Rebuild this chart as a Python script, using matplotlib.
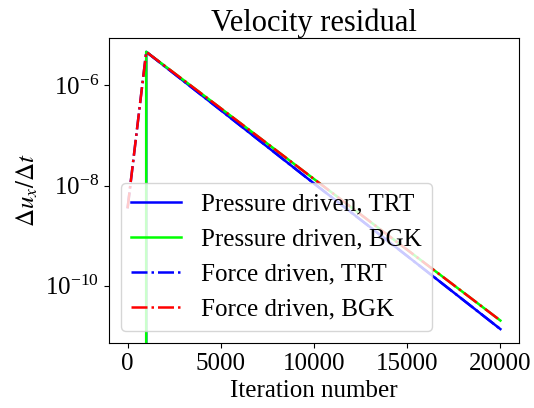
import matplotlib
matplotlib.use("Agg")
import matplotlib.pyplot as plt

plt.rcParams['font.family'] = ['Liberation Serif', 'DejaVu Serif']
plt.rcParams['mathtext.fontset'] = 'stix'
plt.rcParams['font.size'] = 18

# ---------------------------
# Data
# ---------------------------
# pressure driven runs start at iteration 1000 (zero residual before)
it_pressure = [0, 999, 1000, 5000, 10000, 15000, 20000]
pressure_trt = [0, 0, 4.7e-6, 3.2e-7, 1.1e-8, 3.9e-10, 1.35e-11]
pressure_bgk = [0, 0, 4.7e-6, 3.5e-7, 1.35e-8, 5.2e-10, 2.0e-11]

# force driven runs start from iteration 0
it_force = [0, 1000, 5000, 10000, 15000, 20000]
force_trt = [3.5e-9, 4.7e-6, 3.2e-7, 1.1e-8, 3.9e-10, 1.35e-11]
force_bgk = [3.5e-9, 4.7e-6, 3.5e-7, 1.35e-8, 5.2e-10, 2.0e-11]

labels = ["Pressure driven, TRT", "Pressure driven, BGK",
          "Force driven, TRT", "Force driven, BGK"]
yticks = [1e-6, 1e-8, 1e-10]

# ---------------------------
# Plot
# ---------------------------
fig = plt.figure(figsize=(5.34, 4.08), dpi=100)
ax = fig.add_axes([0.204, 0.159, 0.768, 0.748])

ax.plot(it_pressure, pressure_trt, "-", color="blue", lw=1.8, label=labels[0])
ax.plot(it_pressure, pressure_bgk, "-", color="lime", lw=1.8, label=labels[1])
ax.plot(it_force, force_trt, "-.", color="blue", lw=1.8, label=labels[2])
ax.plot(it_force, force_bgk, "-.", color="red", lw=1.8, label=labels[3])

ax.set_yscale("log")
ax.set_ylim(10**-11.15, 10**-5.05)
ax.set_yticks(yticks)
ax.set_xlim(-1000, 21000)
ax.set_xticks([0, 5000, 10000, 15000, 20000])
ax.minorticks_off()

ax.set_xlabel("Iteration number")
ax.set_ylabel(r"$\Delta u_x/\Delta t$")
ax.set_title("Velocity residual", fontsize=22, pad=5)
ax.legend(loc="lower left")

plt.savefig("out.png", dpi=100)
